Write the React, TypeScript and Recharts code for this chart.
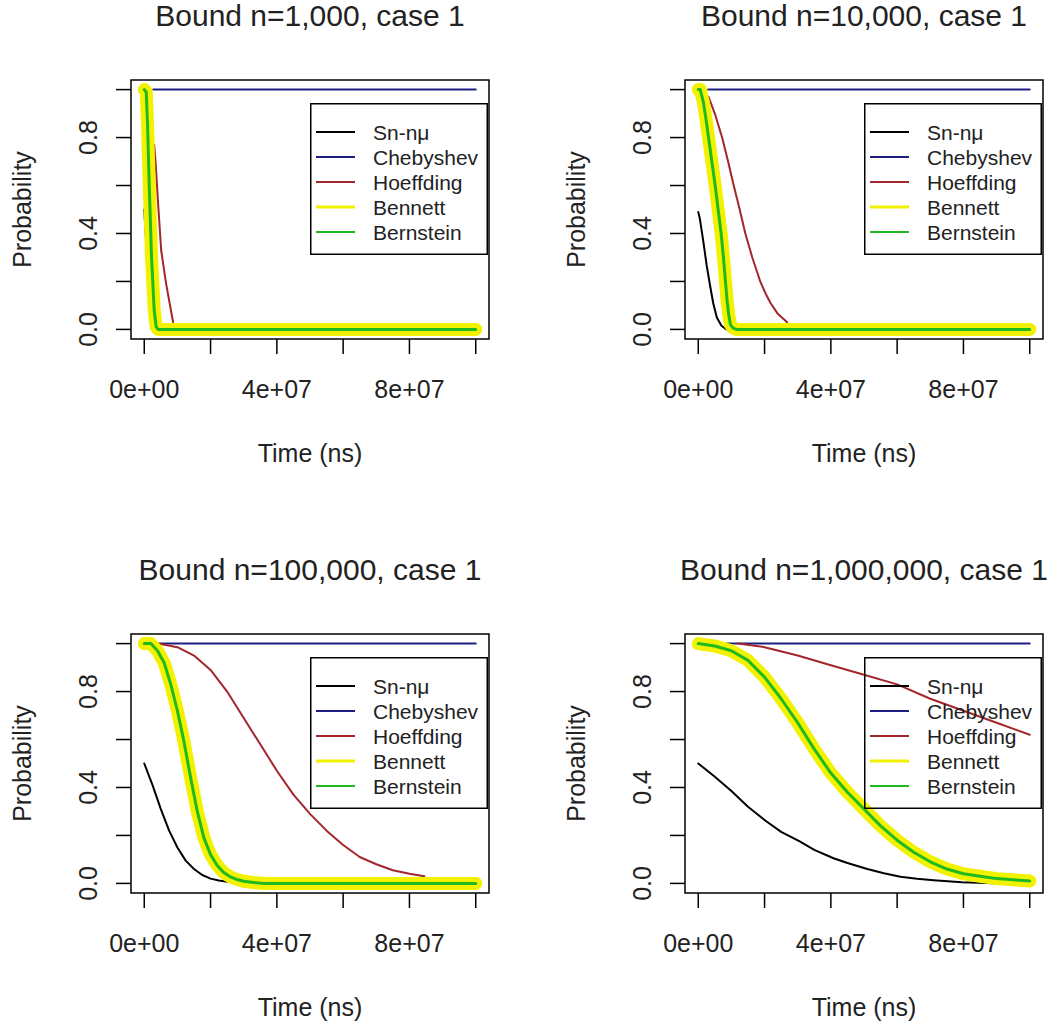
import React from "react";
import { LineChart, Line, XAxis, YAxis, ReferenceArea, Legend } from "recharts";

type Pt = [number, number]; // [time (ns), probability]

// ---- n = 1,000 ----
const snNmu1k: Pt[] = [[0, 0.5], [6e5, 0.36], [1.3e6, 0.18], [2e6, 0.05], [3e6, 0]];
const chebyshev1k: Pt[] = [[2.7e6, 1], [1e8, 1]];
const hoeffding1k: Pt[] = [[3e6, 0.77], [3.4e6, 0.7], [4.2e6, 0.52], [5.1e6, 0.33], [6.6e6, 0.19], [8.7e6, 0.03]];
const bernstein1k: Pt[] = [[0, 1], [6e5, 0.99], [1e6, 0.85], [1.5e6, 0.6], [2.2e6, 0.3], [3e6, 0.08], [3.6e6, 0.01], [4.2e6, 0], [1e8, 0]];
const bennett1k: Pt[] = [[0, 1], [6e5, 0.99], [1e6, 0.85], [1.5e6, 0.6], [2.2e6, 0.3], [3e6, 0.08], [3.6e6, 0.01], [4.2e6, 0], [1e8, 0]];

// ---- n = 10,000 ----
const snNmu10k: Pt[] = [[0, 0.49], [5e5, 0.46], [1.6e6, 0.36], [2.5e6, 0.27], [3.6e6, 0.18], [4.5e6, 0.11], [5.6e6, 0.05], [7e6, 0.015], [8.5e6, 0]];
const chebyshev10k: Pt[] = [[3e6, 1], [1e8, 1]];
const hoeffding10k: Pt[] = [[3.1e6, 0.97], [5e6, 0.9], [7.2e6, 0.8], [9e6, 0.7], [10.7e6, 0.6], [12.5e6, 0.5], [14.2e6, 0.4], [16.3e6, 0.3], [18.7e6, 0.2], [20.3e6, 0.15], [21.8e6, 0.11], [24e6, 0.065], [26.8e6, 0.03]];
const bernstein10k: Pt[] = [[0, 1], [6e5, 1], [1.5e6, 0.95], [2.3e6, 0.88], [3.1e6, 0.8], [4.1e6, 0.7], [5.1e6, 0.6], [6e6, 0.5], [6.9e6, 0.4], [7.6e6, 0.3], [8.2e6, 0.2], [8.7e6, 0.12], [9.2e6, 0.06], [9.7e6, 0.02], [10.5e6, 0.005], [11.5e6, 0], [1e8, 0]];
const bennett10k: Pt[] = [[0, 1], [6e5, 1], [1.5e6, 0.95], [2.3e6, 0.88], [3.1e6, 0.8], [4.1e6, 0.7], [5.1e6, 0.6], [6e6, 0.5], [6.9e6, 0.4], [7.6e6, 0.3], [8.2e6, 0.2], [8.7e6, 0.12], [9.2e6, 0.06], [9.7e6, 0.02], [10.5e6, 0.005], [11.5e6, 0], [1e8, 0]];

// ---- n = 100,000 ----
const snNmu100k: Pt[] = [[0, 0.5], [2.5e6, 0.41], [5e6, 0.31], [7.5e6, 0.22], [10e6, 0.15], [12.5e6, 0.095], [15e6, 0.06], [17.5e6, 0.035], [20e6, 0.02], [22.5e6, 0.012], [25e6, 0.007], [28.4e6, 0.005]];
const chebyshev100k: Pt[] = [[4.5e6, 1], [1e8, 1]];
const hoeffding100k: Pt[] = [[4.2e6, 1], [10e6, 0.985], [15e6, 0.95], [20e6, 0.89], [25e6, 0.8], [30e6, 0.69], [35e6, 0.58], [40e6, 0.47], [45e6, 0.37], [50e6, 0.29], [55e6, 0.22], [60e6, 0.16], [65e6, 0.11], [70e6, 0.08], [75e6, 0.055], [80e6, 0.04], [84.5e6, 0.03]];
const bernstein100k: Pt[] = [[0, 1], [2e6, 1], [4e6, 0.97], [6e6, 0.92], [8e6, 0.83], [10e6, 0.72], [12e6, 0.59], [14e6, 0.44], [16e6, 0.3], [18e6, 0.19], [20e6, 0.12], [22e6, 0.075], [24e6, 0.045], [26e6, 0.027], [28e6, 0.016], [30e6, 0.009], [33e6, 0.004], [36e6, 0], [1e8, 0]];
const bennett100k: Pt[] = [[0, 1], [2e6, 1], [4e6, 0.97], [6e6, 0.92], [8e6, 0.83], [10e6, 0.72], [12e6, 0.59], [14e6, 0.44], [16e6, 0.3], [18e6, 0.19], [20e6, 0.12], [22e6, 0.075], [24e6, 0.045], [26e6, 0.027], [28e6, 0.016], [30e6, 0.009], [33e6, 0.004], [36e6, 0], [1e8, 0]];

// ---- n = 1,000,000 ----
const snNmu1m: Pt[] = [[0, 0.5], [5e6, 0.445], [10e6, 0.385], [15e6, 0.32], [20.4e6, 0.26], [25e6, 0.215], [30.6e6, 0.175], [35e6, 0.14], [40.8e6, 0.105], [45e6, 0.085], [51e6, 0.06], [56e6, 0.042], [61e6, 0.028], [66e6, 0.019], [71e6, 0.013], [79.5e6, 0.005], [91.7e6, 0]];
const chebyshev1m: Pt[] = [[8.6e6, 1], [1e8, 1]];
const hoeffding1m: Pt[] = [[12e6, 1], [20e6, 0.985], [30e6, 0.95], [40e6, 0.91], [50e6, 0.87], [60e6, 0.83], [70e6, 0.77], [80e6, 0.72], [90e6, 0.67], [1e8, 0.62]];
const bernstein1m: Pt[] = [[0, 1], [5e6, 0.99], [10e6, 0.97], [15e6, 0.93], [20e6, 0.86], [25e6, 0.77], [30e6, 0.67], [35e6, 0.56], [40e6, 0.46], [45e6, 0.38], [50e6, 0.31], [55e6, 0.24], [60e6, 0.18], [65e6, 0.13], [70e6, 0.09], [75e6, 0.06], [80e6, 0.04], [85e6, 0.03], [90e6, 0.02], [95e6, 0.015], [1e8, 0.01]];
const bennett1m: Pt[] = [[0, 1], [5e6, 0.99], [10e6, 0.97], [15e6, 0.93], [20e6, 0.86], [25e6, 0.77], [30e6, 0.67], [35e6, 0.56], [40e6, 0.46], [45e6, 0.38], [50e6, 0.31], [55e6, 0.24], [60e6, 0.18], [65e6, 0.13], [70e6, 0.09], [75e6, 0.06], [80e6, 0.04], [85e6, 0.03], [90e6, 0.02], [95e6, 0.015], [1e8, 0.01]];

const titles = ["Bound n=1,000, case 1", "Bound n=10,000, case 1", "Bound n=100,000, case 1", "Bound n=1,000,000, case 1"];
const seriesNames = ["Sn-nμ", "Chebyshev", "Hoeffding", "Bennett", "Bernstein"];
const timeTicks = [0, 2e7, 4e7, 6e7, 8e7, 1e8];
const timeTickLabels = ["0e+00", "", "4e+07", "", "8e+07", ""];
const probTicks = [0, 0.2, 0.4, 0.6, 0.8, 1];
const probTickLabels = ["0.0", "", "0.4", "", "0.8", ""];

const panelSeries: Pt[][][] = [
  [snNmu1k, chebyshev1k, hoeffding1k, bennett1k, bernstein1k],
  [snNmu10k, chebyshev10k, hoeffding10k, bennett10k, bernstein10k],
  [snNmu100k, chebyshev100k, hoeffding100k, bennett100k, bernstein100k],
  [snNmu1m, chebyshev1m, hoeffding1m, bennett1m, bernstein1m],
];

const seriesStyle = [
  { color: "#000000", width: 2, legendWidth: 2 },
  { color: "#1e1e82", width: 2, legendWidth: 2 },
  { color: "#a3262b", width: 2, legendWidth: 2 },
  { color: "#f2f200", width: 13, legendWidth: 3 },
  { color: "#1fba1f", width: 3, legendWidth: 2 },
];

const FONT = "'Liberation Sans', Arial, Helvetica, sans-serif";
const TEXT = "#222";

// panel geometry (px, local to a panel)
const W = 508;
const H = 476;
const BOX_LEFT = 131;
const BOX_RIGHT = 489;
const BOX_TOP = 80;
const BOX_BOTTOM = 339;
const Y_AXIS_W = 60;
const X_AXIS_H = 60;
const STEP = 554;

const TimeTick = (props: any) => {
  const { x, payload } = props;
  const label = timeTickLabels[timeTicks.indexOf(payload.value)];
  if (!label) return <g />;
  return (
    <text x={x} y={BOX_BOTTOM + 59} textAnchor="middle" fontSize={25} fill={TEXT} fontFamily={FONT}>
      {label}
    </text>
  );
};

const ProbTick = (props: any) => {
  const { y, payload } = props;
  const label = probTickLabels[probTicks.indexOf(payload.value)];
  if (!label) return <g />;
  const bx = 97;
  return (
    <text x={bx} y={y} transform={`rotate(-90 ${bx} ${y})`} textAnchor="middle" fontSize={25} fill={TEXT} fontFamily={FONT}>
      {label}
    </text>
  );
};

const LegendBox = () => (
  <svg width={178} height={152} style={{ display: "block", overflow: "visible" }}>
    <rect x={0.75} y={0.75} width={176.5} height={150.5} fill="none" stroke="#000" strokeWidth={1.5} />
    {seriesNames.map((name, i) => (
      <g key={name}>
        <line x1={6} x2={45} y1={29 + i * 25} y2={29 + i * 25} stroke={seriesStyle[i].color} strokeWidth={seriesStyle[i].legendWidth} />
        <text x={63} y={29 + i * 25} dominantBaseline="central" fontSize={21} fill={TEXT} fontFamily={FONT}>
          {name}
        </text>
      </g>
    ))}
  </svg>
);

const Panel = ({ index }: { index: number }) => {
  const left = (index % 2) * STEP;
  const top = Math.floor(index / 2) * STEP;
  const cx = (BOX_LEFT + BOX_RIGHT) / 2;
  const cy = (BOX_TOP + BOX_BOTTOM) / 2;
  return (
    <div style={{ position: "absolute", left, top, width: W, height: H }}>
      <div
        style={{
          position: "absolute",
          left: BOX_LEFT - 100,
          width: BOX_RIGHT - BOX_LEFT + 200,
          top: 1,
          textAlign: "center",
          fontSize: 30,
          lineHeight: "30px",
          color: TEXT,
          whiteSpace: "nowrap",
          zIndex: 2,
        }}
      >
        {titles[index]}
      </div>
      <LineChart
        width={W}
        height={H}
        margin={{ top: BOX_TOP, right: W - BOX_RIGHT, bottom: H - BOX_BOTTOM - X_AXIS_H, left: BOX_LEFT - Y_AXIS_W }}
      >
        <XAxis
          type="number"
          dataKey="t"
          domain={[-4e6, 1.04e8]}
          ticks={timeTicks}
          interval={0}
          tick={<TimeTick />}
          tickSize={15}
          tickLine={{ stroke: "#000", strokeWidth: 1.5 }}
          axisLine={false}
          height={X_AXIS_H}
          label={() => (
            <text x={cx} y={462} textAnchor="middle" fontSize={25} fill={TEXT} fontFamily={FONT}>
              Time (ns)
            </text>
          )}
        />
        <YAxis
          type="number"
          domain={[-0.04, 1.04]}
          ticks={probTicks}
          interval={0}
          tick={<ProbTick />}
          tickSize={15}
          tickLine={{ stroke: "#000", strokeWidth: 1.5 }}
          axisLine={false}
          width={Y_AXIS_W}
          label={() => (
            <text x={31} y={cy} transform={`rotate(-90 31 ${cy})`} textAnchor="middle" fontSize={25} fill={TEXT} fontFamily={FONT}>
              Probability
            </text>
          )}
        />
        <ReferenceArea x1={-4e6} x2={1.04e8} y1={-0.04} y2={1.04} fill="none" fillOpacity={0} stroke="#000" strokeWidth={1.5} />
        {panelSeries[index].map((pts, i) => (
          <Line
            key={seriesNames[i]}
            name={seriesNames[i]}
            data={pts.map(([t, p]) => ({ t, p }))}
            dataKey="p"
            type="linear"
            stroke={seriesStyle[i].color}
            strokeWidth={seriesStyle[i].width}
            strokeLinejoin="round"
            strokeLinecap="round"
            dot={false}
            activeDot={false}
            isAnimationActive={false}
          />
        ))}
        <Legend
          layout="vertical"
          align="center"
          verticalAlign="middle"
          wrapperStyle={{ left: 310, top: 103, width: 178, height: 152 }}
          content={<LegendBox />}
        />
      </LineChart>
    </div>
  );
};

export default function App() {
  return (
    <div
      style={{
        position: "absolute",
        left: 0,
        top: 0,
        width: 1062,
        height: 1030,
        background: "#fff",
        fontFamily: FONT,
        overflow: "hidden",
      }}
    >
      {[0, 1, 2, 3].map((i) => (
        <Panel key={i} index={i} />
      ))}
    </div>
  );
}
